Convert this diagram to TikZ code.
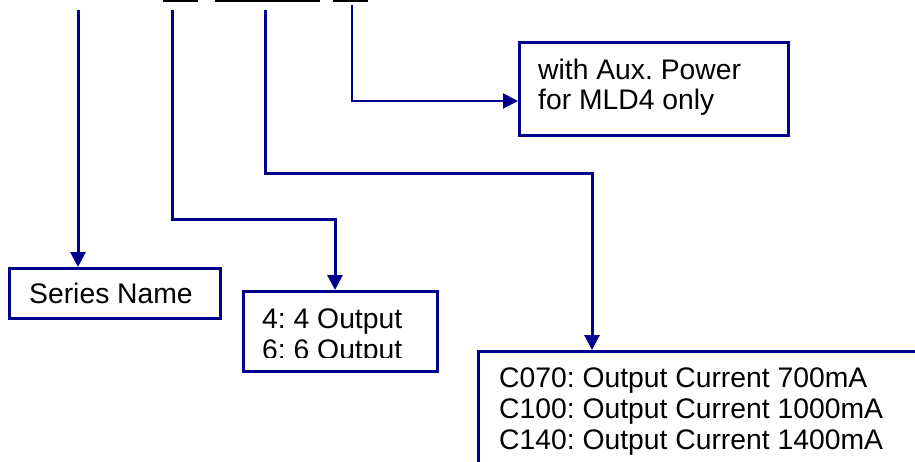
\documentclass[tikz,border=0pt]{standalone}
\usepackage{fontspec}
\setmainfont{Liberation Sans}
\usetikzlibrary{arrows.meta}
\definecolor{navy}{RGB}{0,0,140}
\tikzset{
  conn/.style={draw=navy, line width=3pt, -{Triangle[length=15pt,width=15pt]}},
  thinconn/.style={draw=navy, line width=2pt, -{Triangle[length=15pt,width=15pt]}},
  box/.style={draw=navy, line width=3.2pt, fill=white, inner sep=0pt, anchor=north west},
  txt/.style={anchor=base west, inner sep=0pt, font=\fontsize{28.3}{31}\selectfont\frenchspacing, text=black},
}
\begin{document}
\begin{tikzpicture}[x=1pt,y=-1pt]
\useasboundingbox (0,0) rectangle (915,461);
\clip (0,0) rectangle (915,461);
% cut-off underlines at top
\fill[black] (163,0) rectangle (198,2);
\fill[black] (215,0) rectangle (320,2);
\fill[black] (333,0) rectangle (368,2);
% boxes
\node[box, minimum width=211pt, minimum height=50pt] (series) at (8,267) {};
\node[box, minimum width=194pt, minimum height=80pt] (outs) at (242,290) {};
\node[box, minimum width=269pt, minimum height=93pt] (aux) at (518,41) {};
\node[box, minimum width=460pt, minimum height=140pt] (cur) at (477,350) {};
% texts
\node[txt] (tseries) at (29,303) {Series Name};
\node[txt] (taux1) at (538,79) {with Aux. Power};
\node[txt] (taux2) at (538,109) {for MLD4 only};
\begin{scope}
\clip (244,292) rectangle (434,357);
\node[txt] (tout1) at (262,328) {4: 4 Output};
\node[txt] (tout2) at (262,359) {6: 6 Output};
\end{scope}
\node[txt] (tc1) at (499,387) {C070: Output Current 700mA};
\node[txt] (tc2) at (499,418) {C100: Output Current 1000mA};
\node[txt] (tc3) at (499,449) {C140: Output Current 1400mA};
% connector points
\coordinate (t1) at (78,10);
\coordinate (t2) at (172,10);
\coordinate (c2) at (335,219);
\coordinate (t3) at (265,10);
\coordinate (c3) at (592,173);
\coordinate (t4) at (352,5);
\coordinate (c4) at (352,101);
% connectors
\draw[conn] (t1) -- (t1 |- series.north);
\draw[conn] (t2) |- (c2) -- (c2 |- outs.north);
\draw[conn] (t3) |- (c3) -- (c3 |- cur.north);
\draw[thinconn] (t4) -- (c4) -- (c4 -| aux.west);
\end{tikzpicture}
\end{document}
